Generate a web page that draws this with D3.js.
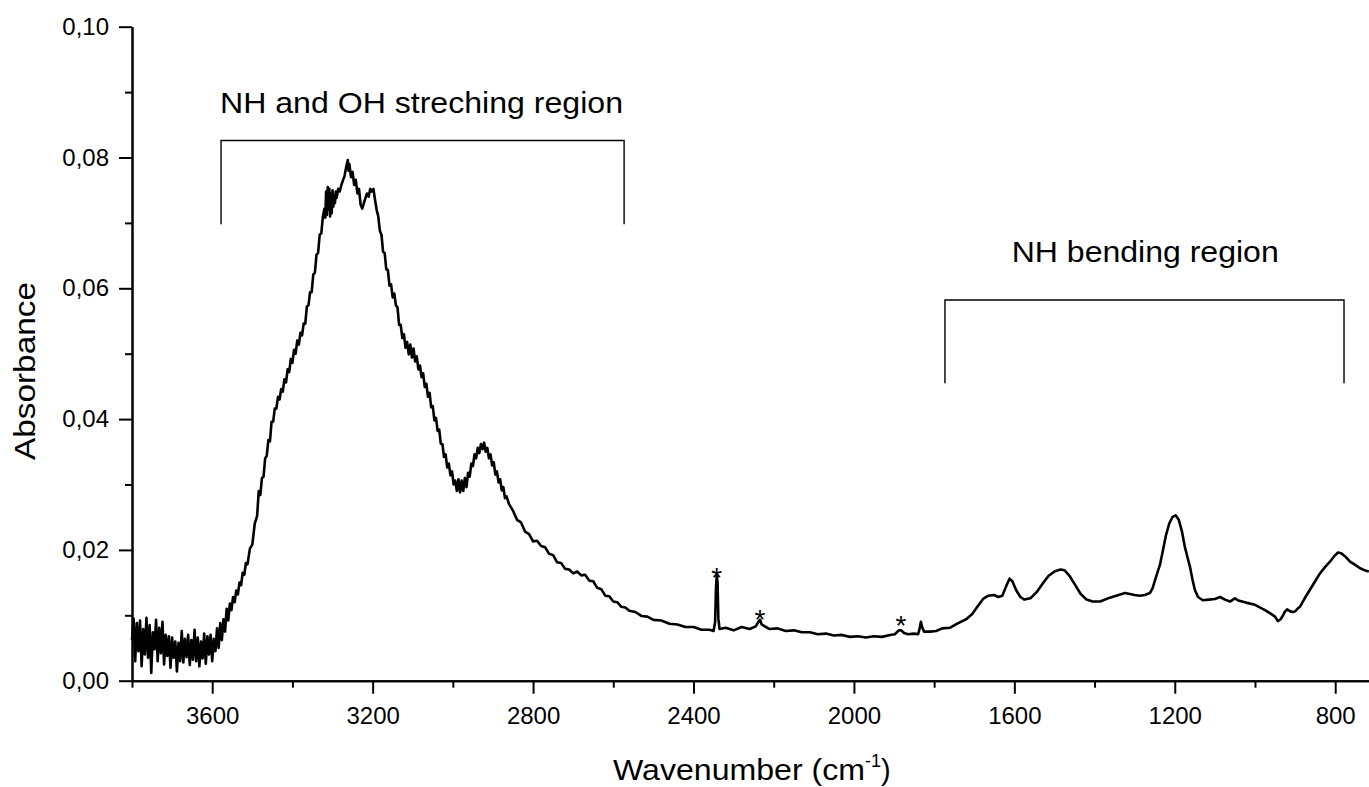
<!DOCTYPE html>
<html>
<head>
<meta charset="utf-8">
<script src="https://cdn.jsdelivr.net/npm/d3@7"></script>
<style>
  html, body { margin: 0; padding: 0; background: #fff; }
  svg { display: block; font-family: "Liberation Sans", Arial, sans-serif; }
</style>
</head>
<body>
<svg id="chart" width="1369" height="787"></svg>
<script>
// ---------------- DATA ----------------
const wavenumber = [
  3800,3796,3792,3788,3784,3780,3776,3772,3768,3764,3760,3756,3752,3748,3744,3740,3736,3732,3728,3724,
  3720,3716,3712,3708,3704,3700,3696,3692,3688,3684,3680,3676,3672,3668,3664,3660,3656,3652,3648,3644,
  3640,3636,3632,3628,3624,3620,3616,3612,3608,3604,3600,3596,3592,3588,3584,3580,3576,3572,3568,3564,
  3560,3556,3552,3548,3544,3540,3536,3532,3528,3524,3520,3516,3512,3506,3500,3494,3488,3484,3480,3476,
  3472,3468,3464,3460,3456,3452,3448,3444,3440,3436,3432,3428,3424,3420,3416,3412,3408,3404,3400,3396,
  3392,3388,3384,3380,3376,3372,3368,3364,3360,3356,3352,3348,3344,3340,3336,3332,3328,3324,3320,3318,
  3316,3314,3312,3310,3308,3306,3304,3302,3300,3298,3296,3294,3292,3290,3286,3282,3278,3274,3270,3266,
  3262,3260,3258,3254,3250,3246,3242,3238,3234,3230,3226,3222,3218,3214,3210,3206,3202,3198,3194,3190,
  3186,3182,3178,3174,3170,3166,3162,3158,3154,3150,3146,3142,3138,3134,3130,3126,3122,3118,3114,3110,
  3106,3102,3098,3094,3090,3086,3082,3078,3074,3070,3066,3062,3058,3054,3050,3046,3042,3038,3034,3030,
  3026,3022,3018,3014,3010,3006,3002,2998,2994,2990,2986,2982,2978,2974,2970,2966,2962,2958,2954,2950,
  2946,2942,2938,2934,2930,2926,2922,2918,2914,2910,2906,2902,2898,2894,2890,2886,2882,2878,2874,2870,
  2866,2860,2850,2840,2830,2820,2810,2800,2790,2780,2770,2760,2750,2740,2730,2720,2710,2700,2690,2680,
  2670,2660,2650,2640,2630,2620,2610,2600,2590,2580,2570,2560,2545,2530,2515,2500,2480,2460,2440,2420,
  2400,2380,2360,2350,2346,2344,2342,2340,2338,2335,2320,2300,2280,2260,2245,2238,2234,2230,2225,2210,
  2190,2170,2150,2130,2110,2090,2070,2050,2030,2010,1990,1970,1950,1930,1910,1898,1888,1882,1875,1865,
  1850,1840,1836,1833,1830,1825,1810,1795,1780,1760,1740,1720,1705,1690,1678,1665,1650,1640,1630,1620,
  1612,1605,1595,1585,1575,1560,1545,1530,1515,1500,1485,1475,1462,1450,1435,1420,1405,1386,1362,1340,
  1324,1300,1287,1275,1262,1255,1249,1243,1237,1230,1222,1214,1206,1198,1190,1182,1175,1168,1162,1156,
  1150,1142,1130,1115,1100,1087,1075,1062,1055,1050,1043,1037,1020,1000,988,975,962,950,943,936,
  930,925,920,912,905,900,894,888,876,863,850,838,825,813,803,793,785,775,763,750,
  738,727,716
];
const absorbance = [
  0.0062,0.0095,0.0030,0.0088,0.0045,0.0092,0.0022,0.0079,0.0040,0.0096,0.0035,0.0085,0.0012,0.0074,0.0048,0.0093,0.0030,0.0081,0.0042,0.0090,
  0.0025,0.0070,0.0038,0.0068,0.0020,0.0066,0.0035,0.0060,0.0014,0.0058,0.0030,0.0076,0.0028,0.0064,0.0036,0.0070,0.0024,0.0062,0.0032,0.0078,
  0.0030,0.0066,0.0022,0.0060,0.0034,0.0072,0.0026,0.0068,0.0040,0.0070,0.0030,0.0064,0.0045,0.0080,0.0050,0.0088,0.0062,0.0094,0.0075,0.0110,
  0.0092,0.0118,0.0108,0.0128,0.0120,0.0138,0.0132,0.0150,0.0146,0.0165,0.0162,0.0180,0.0178,0.0202,0.0208,0.0240,0.0252,0.0290,0.0284,0.0310,
  0.0312,0.0340,0.0344,0.0368,0.0366,0.0396,0.0396,0.0416,0.0416,0.0434,0.0430,0.0446,0.0442,0.0461,0.0456,0.0476,0.0472,0.0492,0.0486,0.0506,
  0.0500,0.0520,0.0514,0.0532,0.0528,0.0546,0.0546,0.0572,0.0574,0.0594,0.0594,0.0621,0.0624,0.0651,0.0654,0.0682,0.0684,0.0710,0.0722,0.0708,
  0.0748,0.0712,0.0755,0.0720,0.0752,0.0710,0.0745,0.0715,0.0750,0.0725,0.0742,0.0730,0.0748,0.0738,0.0752,0.0748,0.0758,0.0765,0.0772,0.0785,
  0.0796,0.0780,0.0790,0.0770,0.0778,0.0758,0.0766,0.0745,0.0752,0.0728,0.0722,0.0730,0.0738,0.0745,0.0740,0.0752,0.0748,0.0752,0.0735,0.0720,
  0.0710,0.0688,0.0682,0.0656,0.0654,0.0629,0.0628,0.0604,0.0606,0.0586,0.0592,0.0574,0.0571,0.0544,0.0544,0.0524,0.0530,0.0509,0.0518,0.0499,
  0.0514,0.0494,0.0508,0.0488,0.0496,0.0476,0.0482,0.0464,0.0470,0.0449,0.0454,0.0434,0.0440,0.0418,0.0420,0.0398,0.0402,0.0382,0.0384,0.0362,
  0.0362,0.0342,0.0346,0.0326,0.0332,0.0314,0.0320,0.0300,0.0306,0.0290,0.0308,0.0288,0.0306,0.0290,0.0310,0.0296,0.0318,0.0312,0.0332,0.0328,
  0.0346,0.0340,0.0356,0.0348,0.0362,0.0354,0.0364,0.0350,0.0356,0.0340,0.0346,0.0329,0.0334,0.0315,0.0320,0.0303,0.0308,0.0291,0.0296,0.0279,
  0.0282,0.0270,0.0260,0.0246,0.0242,0.0228,0.0224,0.0213,0.0214,0.0206,0.0204,0.0194,0.0192,0.0181,0.0180,0.0171,0.0170,0.0164,0.0167,0.0161,
  0.0162,0.0153,0.0152,0.0142,0.0140,0.0130,0.0129,0.0121,0.0120,0.0113,0.0112,0.0107,0.0105,0.0099,0.0098,0.0093,0.0092,0.0087,0.0086,0.0082,
  0.0082,0.0078,0.0078,0.0076,0.0090,0.0140,0.0161,0.0150,0.0095,0.0079,0.0081,0.0077,0.0082,0.0079,0.0083,0.0090,0.0093,0.0086,0.0084,0.0079,
  0.0080,0.0076,0.0077,0.0074,0.0074,0.0071,0.0072,0.0069,0.0070,0.0067,0.0068,0.0066,0.0068,0.0067,0.0070,0.0071,0.0077,0.0077,0.0073,0.0071,
  0.0072,0.0071,0.0080,0.0090,0.0082,0.0075,0.0075,0.0076,0.0080,0.0081,0.0088,0.0094,0.0102,0.0115,0.0125,0.0130,0.0131,0.0128,0.0130,0.0145,
  0.0156,0.0152,0.0138,0.0128,0.0124,0.0126,0.0135,0.0148,0.0160,0.0167,0.0170,0.0169,0.0160,0.0148,0.0133,0.0124,0.0121,0.0121,0.0127,0.0131,
  0.0134,0.0131,0.0130,0.0131,0.0134,0.0142,0.0154,0.0166,0.0177,0.0198,0.0222,0.0240,0.0250,0.0253,0.0246,0.0228,0.0205,0.0188,0.0174,0.0155,
  0.0139,0.0128,0.0123,0.0124,0.0125,0.0128,0.0124,0.0121,0.0124,0.0126,0.0123,0.0122,0.0119,0.0116,0.0112,0.0108,0.0103,0.0098,0.0091,0.0094,
  0.0100,0.0106,0.0109,0.0106,0.0105,0.0106,0.0110,0.0113,0.0126,0.0139,0.0152,0.0164,0.0174,0.0182,0.0190,0.0196,0.0195,0.0190,0.0182,0.0177,
  0.0172,0.0169,0.0167
];

const xMajorTicks = [3600, 3200, 2800, 2400, 2000, 1600, 1200, 800];
const xMinorTicks = [3800, 3400, 3000, 2600, 2200, 1800, 1400, 1000];
const yMajorTicks = [0.00, 0.02, 0.04, 0.06, 0.08, 0.10];
const yMinorTicks = [0.01, 0.03, 0.05, 0.07, 0.09];

const xTitle = "Wavenumber (cm";
const xTitleSup = "-1";
const yTitle = "Absorbance";

// Region brackets: [left wn, right wn, top abs, bottom abs]
const regionLabels = ["NH and OH streching region", "NH bending region"];
const regionBrackets = [
  [3578, 2573, 0.0826, 0.0698],
  [1773, 778, 0.0582, 0.0455]
];
// Asterisk marks for artefact peaks: [wn, abs]
const starMarks = [
  [2342, 0.0167],
  [2234, 0.0103],
  [1883, 0.0094]
];

// ---------------- CHART ----------------
const svg = d3.select("#chart");
const x = d3.scaleLinear().domain([3800, 700]).range([132, 1375.3]);
const y = d3.scaleLinear().domain([0, 0.10]).range([680.7, 26.7]);

const loc = d3.formatLocale({decimal: ",", thousands: ".", grouping: [3], currency: ["", ""]});
const yFmt = loc.format(".2f");

// curve
const line = d3.line().x((d, i) => x(wavenumber[i])).y((d, i) => y(absorbance[i]));
svg.append("path")
  .attr("d", line(wavenumber))
  .attr("fill", "none")
  .attr("stroke", "#000")
  .attr("stroke-width", 2.6)
  .attr("stroke-linejoin", "round");

// axes
function styleAxis(g) {
  g.selectAll("path.domain").attr("stroke", "#000").attr("stroke-width", 2);
  g.selectAll(".tick line").attr("stroke", "#000").attr("stroke-width", 2);
  g.selectAll(".tick text").attr("fill", "#000").style("font-size", "24px")
    .style("font-family", '"Liberation Sans", Arial, sans-serif');
}

const xAxisMinor = svg.append("g").attr("transform", `translate(0,${y(0)})`)
  .call(d3.axisBottom(x).tickValues(xMinorTicks).tickSize(7).tickSizeOuter(0).tickFormat(""));
styleAxis(xAxisMinor);
const xAxis = svg.append("g").attr("transform", `translate(0,${y(0)})`)
  .call(d3.axisBottom(x).tickValues(xMajorTicks).tickSize(13).tickSizeOuter(0).tickPadding(13).tickFormat(d3.format("d")));
styleAxis(xAxis);

const yAxisMinor = svg.append("g").attr("transform", `translate(${x(3800)},0)`)
  .call(d3.axisLeft(y).tickValues(yMinorTicks).tickSize(7).tickSizeOuter(0).tickFormat(""));
styleAxis(yAxisMinor);
const yAxis = svg.append("g").attr("transform", `translate(${x(3800)},0)`)
  .call(d3.axisLeft(y).tickValues(yMajorTicks).tickSize(13).tickSizeOuter(0).tickPadding(10).tickFormat(yFmt));
styleAxis(yAxis);

// axis titles
const xt = svg.append("text")
  .attr("x", 613).attr("y", 780)
  .style("font-size", "29px").attr("fill", "#000");
xt.append("tspan").text(xTitle).attr("textLength", 252).attr("lengthAdjust", "spacingAndGlyphs");
xt.append("tspan").text(xTitleSup).style("font-size", "18px").attr("dy", -13);
xt.append("tspan").text(")").attr("dy", 13);

svg.append("text")
  .attr("transform", `translate(35,371) rotate(-90)`)
  .attr("text-anchor", "middle")
  .style("font-size", "29px").attr("fill", "#000")
  .attr("textLength", 178).attr("lengthAdjust", "spacingAndGlyphs")
  .text(yTitle);

// region brackets + labels
const labelPos = [
  {x: 220, y: 112.7, len: 403},
  {x: 1011.7, y: 262.3, len: 267}
];
regionBrackets.forEach((b, i) => {
  const [l, r, t, btm] = b;
  svg.append("path")
    .attr("d", `M${x(l)},${y(btm)}V${y(t)}H${x(r)}V${y(btm)}`)
    .attr("fill", "none").attr("stroke", "#000").attr("stroke-width", 1.4);
  svg.append("text")
    .attr("x", labelPos[i].x).attr("y", labelPos[i].y)
    .style("font-size", "29px").attr("fill", "#000")
    .attr("textLength", labelPos[i].len).attr("lengthAdjust", "spacingAndGlyphs")
    .text(regionLabels[i]);
});

// asterisks
svg.selectAll("text.star").data(starMarks).join("text")
  .attr("class", "star")
  .attr("x", d => x(d[0])).attr("y", d => y(d[1]))
  .attr("dy", 16)
  .attr("text-anchor", "middle")
  .style("font-size", "28px").attr("fill", "#000")
  .text("*");
</script>
</body>
</html>
